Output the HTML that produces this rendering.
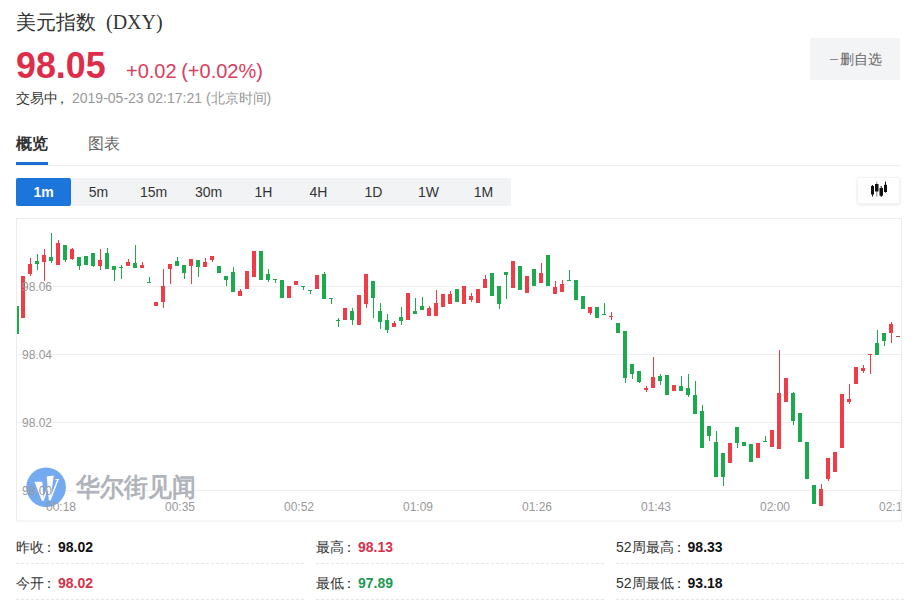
<!DOCTYPE html>
<html><head><meta charset="utf-8">
<style>
*{margin:0;padding:0;box-sizing:border-box}
html,body{width:914px;height:607px;overflow:hidden;background:#fff;font-family:"Liberation Sans",sans-serif;color:#333}
.a{position:absolute;white-space:nowrap}
</style></head><body>
<div class="a" style="left:16px;top:8px;font-size:20px;line-height:28px;color:#333">美元指数<span style="font-family:'Liberation Serif',serif;margin-left:10px">(DXY)</span></div>
<div class="a" style="left:16px;top:45px;font-size:36px;line-height:40px;font-weight:bold;color:#de2d4a;transform:scale(0.995,1.045);transform-origin:0 0">98.05</div>
<div class="a" style="left:126px;top:59px;font-size:20px;line-height:24px;color:#d8405e;word-spacing:-1px">+0.02 (+0.02%)</div>
<div class="a" style="left:16px;top:89px;font-size:14px;line-height:18px;color:#333">交易中<span style="margin-left:-3px;margin-right:3px">，</span><span style="color:#999">2019-05-23 02:17:21 (北京时间)</span></div>
<div class="a" style="left:810px;top:38px;width:90px;height:42px;background:#f3f4f6;"></div>
<div class="a" style="left:829.5px;top:58.5px;width:8.5px;height:1.5px;background:#8a8a8a"></div>
<div class="a" style="left:839.5px;top:50px;font-size:14px;line-height:18px;color:#666">删自选</div>

<div class="a" style="left:16px;top:134px;font-size:16px;line-height:20px;font-weight:bold;color:#333">概览</div>
<div class="a" style="left:88px;top:134px;font-size:16px;line-height:20px;color:#666">图表</div>
<div class="a" style="left:16px;top:165px;width:884px;height:1px;background:#eeeeee"></div>
<div class="a" style="left:16px;top:162px;width:32px;height:3px;background:#1a6fd6"></div>

<div class="a" style="left:16px;top:178px;width:495px;height:28px;background:#f2f3f5"></div>
<div class="a" style="left:16px;top:178px;width:55px;height:28px;background:#1c75db;border-radius:2px"></div>
<div class="a" style="left:16px;top:178px;width:55px;height:28px;line-height:28px;text-align:center;font-size:14px;font-weight:bold;color:#fff">1m</div>
<div class="a" style="left:71px;top:178px;width:55px;height:28px;line-height:28px;text-align:center;font-size:14px;color:#333">5m</div>
<div class="a" style="left:126px;top:178px;width:55px;height:28px;line-height:28px;text-align:center;font-size:14px;color:#333">15m</div>
<div class="a" style="left:181px;top:178px;width:55px;height:28px;line-height:28px;text-align:center;font-size:14px;color:#333">30m</div>
<div class="a" style="left:236px;top:178px;width:55px;height:28px;line-height:28px;text-align:center;font-size:14px;color:#333">1H</div>
<div class="a" style="left:291px;top:178px;width:55px;height:28px;line-height:28px;text-align:center;font-size:14px;color:#333">4H</div>
<div class="a" style="left:346px;top:178px;width:55px;height:28px;line-height:28px;text-align:center;font-size:14px;color:#333">1D</div>
<div class="a" style="left:401px;top:178px;width:55px;height:28px;line-height:28px;text-align:center;font-size:14px;color:#333">1W</div>
<div class="a" style="left:456px;top:178px;width:55px;height:28px;line-height:28px;text-align:center;font-size:14px;color:#333">1M</div>
<div class="a" style="left:857px;top:176.5px;width:43px;height:27.5px;background:#fff;border:1px solid #f3f3f3;box-shadow:0 1px 3px rgba(0,0,0,0.10);border-radius:2px"></div>
<svg class="a" style="left:858px;top:178px" width="42" height="26">
<g fill="#111">
<rect x="13" y="8" width="3" height="8.5"/><rect x="14" y="7" width="1" height="11.5"/>
<rect x="18.3" y="3.6" width="1" height="15" fill="#888"/><rect x="17" y="6" width="3.5" height="7.5"/>
<rect x="21.5" y="10" width="3.5" height="7.7"/><rect x="22.7" y="8" width="1" height="11"/>
<rect x="26" y="6.8" width="3" height="7.2"/><rect x="27" y="3.6" width="1" height="11"/>
</g>
</svg>

<svg class="a" style="left:0;top:0" width="914" height="607">
<rect x="16.5" y="218.5" width="885" height="302.5" fill="none" stroke="#ececec" stroke-width="1"/>
<g fill="#efefef">
<rect x="17" y="286" width="884" height="1"/>
<rect x="17" y="354" width="884" height="1"/>
<rect x="17" y="422" width="884" height="1"/>
<rect x="17" y="490" width="884" height="1"/>
</g>
<g>
<circle cx="46.1" cy="487.2" r="19.8" fill="#74aaf0"/>
<g fill="#fff">
<polygon points="34.4,481.8 42.2,481.8 43.8,500.7 41.8,500.7"/>
<polygon points="42.3,500.7 43.8,500.7 48.8,485.9 47.3,485.9"/>
<polygon points="46.7,476.4 53.7,475.6 50.4,500.3 48.8,500.3"/>
<polygon points="49.3,500.3 50.8,500.3 58.9,478.9 57.3,478.9"/>
<polygon points="55.5,478.9 59.2,478.9 59,480 55.5,480"/>
</g>
</g>
<svg x="17" y="219" width="884" height="302" viewBox="17 219 884 302" overflow="hidden">
<rect x="17" y="306" width="2" height="28" fill="#1daa4f"/>
<rect x="21" y="276" width="4" height="42" fill="#f03c46"/>
<rect x="30" y="258" width="1" height="18" fill="#f03c46"/>
<rect x="28" y="264" width="4" height="10" fill="#f03c46"/>
<rect x="37" y="254" width="1" height="16" fill="#1daa4f"/>
<rect x="35" y="261" width="4" height="3" fill="#1daa4f"/>
<rect x="44" y="249" width="1" height="32" fill="#f03c46"/>
<rect x="42" y="255" width="4" height="7" fill="#f03c46"/>
<rect x="51" y="233" width="1" height="30" fill="#1daa4f"/>
<rect x="49" y="257" width="4" height="4" fill="#1daa4f"/>
<rect x="58" y="240" width="1" height="25" fill="#f03c46"/>
<rect x="56" y="243" width="4" height="22" fill="#f03c46"/>
<rect x="65" y="245" width="1" height="17" fill="#1daa4f"/>
<rect x="63" y="245" width="4" height="15" fill="#1daa4f"/>
<rect x="72" y="248" width="1" height="12" fill="#f03c46"/>
<rect x="70" y="249" width="4" height="10" fill="#f03c46"/>
<rect x="79" y="257" width="1" height="13" fill="#1daa4f"/>
<rect x="77" y="257" width="4" height="9" fill="#1daa4f"/>
<rect x="84" y="256" width="4" height="9" fill="#1daa4f"/>
<rect x="93" y="253" width="1" height="14" fill="#1daa4f"/>
<rect x="91" y="253" width="4" height="13" fill="#1daa4f"/>
<rect x="100" y="249" width="1" height="21" fill="#f03c46"/>
<rect x="98" y="260" width="4" height="6" fill="#f03c46"/>
<rect x="107" y="248" width="1" height="21" fill="#1daa4f"/>
<rect x="105" y="253" width="4" height="16" fill="#1daa4f"/>
<rect x="114" y="266" width="1" height="15" fill="#1daa4f"/>
<rect x="112" y="266" width="4" height="4" fill="#1daa4f"/>
<rect x="121" y="265" width="1" height="14" fill="#1daa4f"/>
<rect x="119" y="267" width="4" height="1" fill="#1daa4f"/>
<rect x="128" y="259" width="1" height="7" fill="#f03c46"/>
<rect x="126" y="262" width="4" height="4" fill="#f03c46"/>
<rect x="135" y="245" width="1" height="23" fill="#1daa4f"/>
<rect x="133" y="263" width="4" height="5" fill="#1daa4f"/>
<rect x="142" y="262" width="1" height="6" fill="#f03c46"/>
<rect x="140" y="265" width="4" height="3" fill="#f03c46"/>
<rect x="149" y="277" width="1" height="6" fill="#1daa4f"/>
<rect x="147" y="282" width="4" height="1" fill="#1daa4f"/>
<rect x="154" y="302" width="4" height="4" fill="#f03c46"/>
<rect x="163" y="269" width="1" height="39" fill="#f03c46"/>
<rect x="161" y="286" width="4" height="16" fill="#f03c46"/>
<rect x="170" y="264" width="1" height="20" fill="#f03c46"/>
<rect x="168" y="264" width="4" height="5" fill="#f03c46"/>
<rect x="177" y="257" width="1" height="9" fill="#1daa4f"/>
<rect x="175" y="261" width="4" height="5" fill="#1daa4f"/>
<rect x="184" y="265" width="1" height="14" fill="#1daa4f"/>
<rect x="182" y="265" width="4" height="8" fill="#1daa4f"/>
<rect x="191" y="259" width="1" height="25" fill="#f03c46"/>
<rect x="189" y="259" width="4" height="7" fill="#f03c46"/>
<rect x="198" y="260" width="1" height="17" fill="#1daa4f"/>
<rect x="196" y="260" width="4" height="7" fill="#1daa4f"/>
<rect x="205" y="258" width="1" height="9" fill="#f03c46"/>
<rect x="203" y="262" width="4" height="5" fill="#f03c46"/>
<rect x="212" y="256" width="1" height="6" fill="#f03c46"/>
<rect x="210" y="256" width="4" height="4" fill="#f03c46"/>
<rect x="217" y="266" width="4" height="7" fill="#1daa4f"/>
<rect x="226" y="276" width="1" height="10" fill="#1daa4f"/>
<rect x="224" y="276" width="4" height="4" fill="#1daa4f"/>
<rect x="233" y="267" width="1" height="25" fill="#1daa4f"/>
<rect x="231" y="272" width="4" height="20" fill="#1daa4f"/>
<rect x="240" y="289" width="1" height="7" fill="#f03c46"/>
<rect x="238" y="291" width="4" height="5" fill="#f03c46"/>
<rect x="245" y="271" width="4" height="18" fill="#f03c46"/>
<rect x="252" y="251" width="4" height="26" fill="#f03c46"/>
<rect x="259" y="251" width="4" height="29" fill="#1daa4f"/>
<rect x="268" y="269" width="1" height="13" fill="#1daa4f"/>
<rect x="266" y="274" width="4" height="6" fill="#1daa4f"/>
<rect x="275" y="279" width="1" height="4" fill="#1daa4f"/>
<rect x="273" y="279" width="4" height="1" fill="#1daa4f"/>
<rect x="280" y="280" width="4" height="18" fill="#1daa4f"/>
<rect x="287" y="286" width="4" height="12" fill="#f03c46"/>
<rect x="294" y="281" width="4" height="4" fill="#f03c46"/>
<rect x="303" y="286" width="1" height="4" fill="#1daa4f"/>
<rect x="301" y="286" width="4" height="1" fill="#1daa4f"/>
<rect x="310" y="290" width="1" height="4" fill="#1daa4f"/>
<rect x="308" y="290" width="4" height="1" fill="#1daa4f"/>
<rect x="315" y="275" width="4" height="14" fill="#f03c46"/>
<rect x="324" y="272" width="1" height="27" fill="#1daa4f"/>
<rect x="322" y="274" width="4" height="25" fill="#1daa4f"/>
<rect x="331" y="298" width="1" height="6" fill="#1daa4f"/>
<rect x="329" y="298" width="4" height="1" fill="#1daa4f"/>
<rect x="338" y="318" width="1" height="9" fill="#1daa4f"/>
<rect x="336" y="320" width="4" height="1" fill="#1daa4f"/>
<rect x="343" y="308" width="4" height="12" fill="#f03c46"/>
<rect x="352" y="308" width="1" height="17" fill="#1daa4f"/>
<rect x="350" y="311" width="4" height="9" fill="#1daa4f"/>
<rect x="357" y="295" width="4" height="30" fill="#f03c46"/>
<rect x="366" y="274" width="1" height="34" fill="#f03c46"/>
<rect x="364" y="274" width="4" height="30" fill="#f03c46"/>
<rect x="373" y="281" width="1" height="37" fill="#1daa4f"/>
<rect x="371" y="281" width="4" height="17" fill="#1daa4f"/>
<rect x="380" y="303" width="1" height="26" fill="#1daa4f"/>
<rect x="378" y="311" width="4" height="11" fill="#1daa4f"/>
<rect x="387" y="314" width="1" height="19" fill="#1daa4f"/>
<rect x="385" y="320" width="4" height="10" fill="#1daa4f"/>
<rect x="394" y="321" width="1" height="6" fill="#f03c46"/>
<rect x="392" y="323" width="4" height="4" fill="#f03c46"/>
<rect x="401" y="307" width="1" height="18" fill="#1daa4f"/>
<rect x="399" y="317" width="4" height="4" fill="#1daa4f"/>
<rect x="406" y="293" width="4" height="27" fill="#f03c46"/>
<rect x="415" y="298" width="1" height="16" fill="#1daa4f"/>
<rect x="413" y="311" width="4" height="3" fill="#1daa4f"/>
<rect x="422" y="297" width="1" height="13" fill="#1daa4f"/>
<rect x="420" y="306" width="4" height="4" fill="#1daa4f"/>
<rect x="429" y="306" width="1" height="10" fill="#f03c46"/>
<rect x="427" y="308" width="4" height="8" fill="#f03c46"/>
<rect x="436" y="290" width="1" height="26" fill="#f03c46"/>
<rect x="434" y="303" width="4" height="13" fill="#f03c46"/>
<rect x="441" y="294" width="4" height="13" fill="#f03c46"/>
<rect x="450" y="291" width="1" height="13" fill="#f03c46"/>
<rect x="448" y="294" width="4" height="10" fill="#f03c46"/>
<rect x="455" y="289" width="4" height="13" fill="#1daa4f"/>
<rect x="462" y="286" width="4" height="18" fill="#f03c46"/>
<rect x="471" y="293" width="1" height="9" fill="#f03c46"/>
<rect x="469" y="296" width="4" height="4" fill="#f03c46"/>
<rect x="476" y="289" width="4" height="14" fill="#f03c46"/>
<rect x="485" y="275" width="1" height="13" fill="#f03c46"/>
<rect x="483" y="279" width="4" height="9" fill="#f03c46"/>
<rect x="490" y="273" width="4" height="23" fill="#1daa4f"/>
<rect x="499" y="286" width="1" height="23" fill="#1daa4f"/>
<rect x="497" y="286" width="4" height="18" fill="#1daa4f"/>
<rect x="506" y="272" width="1" height="27" fill="#1daa4f"/>
<rect x="504" y="272" width="4" height="3" fill="#1daa4f"/>
<rect x="511" y="261" width="4" height="27" fill="#f03c46"/>
<rect x="518" y="266" width="4" height="24" fill="#1daa4f"/>
<rect x="525" y="276" width="4" height="17" fill="#f03c46"/>
<rect x="532" y="269" width="4" height="17" fill="#1daa4f"/>
<rect x="541" y="263" width="1" height="20" fill="#f03c46"/>
<rect x="539" y="273" width="4" height="10" fill="#f03c46"/>
<rect x="546" y="255" width="4" height="31" fill="#1daa4f"/>
<rect x="555" y="281" width="1" height="13" fill="#f03c46"/>
<rect x="553" y="287" width="4" height="7" fill="#f03c46"/>
<rect x="562" y="280" width="1" height="12" fill="#f03c46"/>
<rect x="560" y="284" width="4" height="8" fill="#f03c46"/>
<rect x="569" y="270" width="1" height="10" fill="#1daa4f"/>
<rect x="567" y="280" width="4" height="1" fill="#1daa4f"/>
<rect x="574" y="280" width="4" height="20" fill="#1daa4f"/>
<rect x="581" y="296" width="4" height="13" fill="#1daa4f"/>
<rect x="590" y="307" width="1" height="8" fill="#f03c46"/>
<rect x="588" y="307" width="4" height="6" fill="#f03c46"/>
<rect x="595" y="307" width="4" height="11" fill="#1daa4f"/>
<rect x="604" y="303" width="1" height="11" fill="#1daa4f"/>
<rect x="602" y="314" width="4" height="1" fill="#1daa4f"/>
<rect x="611" y="312" width="1" height="8" fill="#f03c46"/>
<rect x="609" y="316" width="4" height="1" fill="#f03c46"/>
<rect x="616" y="323" width="4" height="10" fill="#1daa4f"/>
<rect x="625" y="331" width="1" height="52" fill="#1daa4f"/>
<rect x="623" y="331" width="4" height="47" fill="#1daa4f"/>
<rect x="632" y="364" width="1" height="15" fill="#1daa4f"/>
<rect x="630" y="364" width="4" height="10" fill="#1daa4f"/>
<rect x="639" y="371" width="1" height="12" fill="#1daa4f"/>
<rect x="637" y="371" width="4" height="11" fill="#1daa4f"/>
<rect x="646" y="386" width="1" height="6" fill="#f03c46"/>
<rect x="644" y="388" width="4" height="2" fill="#f03c46"/>
<rect x="653" y="357" width="1" height="31" fill="#f03c46"/>
<rect x="651" y="377" width="4" height="11" fill="#f03c46"/>
<rect x="660" y="374" width="1" height="11" fill="#1daa4f"/>
<rect x="658" y="376" width="4" height="5" fill="#1daa4f"/>
<rect x="665" y="375" width="4" height="20" fill="#1daa4f"/>
<rect x="672" y="385" width="4" height="6" fill="#f03c46"/>
<rect x="681" y="376" width="1" height="15" fill="#1daa4f"/>
<rect x="679" y="386" width="4" height="5" fill="#1daa4f"/>
<rect x="688" y="374" width="1" height="23" fill="#1daa4f"/>
<rect x="686" y="388" width="4" height="7" fill="#1daa4f"/>
<rect x="695" y="381" width="1" height="33" fill="#1daa4f"/>
<rect x="693" y="395" width="4" height="19" fill="#1daa4f"/>
<rect x="702" y="405" width="1" height="43" fill="#1daa4f"/>
<rect x="700" y="411" width="4" height="37" fill="#1daa4f"/>
<rect x="709" y="426" width="1" height="15" fill="#1daa4f"/>
<rect x="707" y="426" width="4" height="10" fill="#1daa4f"/>
<rect x="716" y="431" width="1" height="46" fill="#1daa4f"/>
<rect x="714" y="442" width="4" height="35" fill="#1daa4f"/>
<rect x="723" y="453" width="1" height="33" fill="#1daa4f"/>
<rect x="721" y="453" width="4" height="24" fill="#1daa4f"/>
<rect x="728" y="443" width="4" height="20" fill="#f03c46"/>
<rect x="737" y="427" width="1" height="21" fill="#1daa4f"/>
<rect x="735" y="427" width="4" height="16" fill="#1daa4f"/>
<rect x="742" y="442" width="4" height="4" fill="#1daa4f"/>
<rect x="749" y="444" width="4" height="18" fill="#1daa4f"/>
<rect x="756" y="443" width="4" height="15" fill="#f03c46"/>
<rect x="765" y="436" width="1" height="6" fill="#1daa4f"/>
<rect x="763" y="441" width="4" height="1" fill="#1daa4f"/>
<rect x="770" y="430" width="4" height="17" fill="#f03c46"/>
<rect x="779" y="350" width="1" height="99" fill="#f03c46"/>
<rect x="777" y="393" width="4" height="56" fill="#f03c46"/>
<rect x="784" y="378" width="4" height="24" fill="#f03c46"/>
<rect x="793" y="392" width="1" height="33" fill="#1daa4f"/>
<rect x="791" y="393" width="4" height="28" fill="#1daa4f"/>
<rect x="798" y="413" width="4" height="29" fill="#1daa4f"/>
<rect x="805" y="442" width="4" height="37" fill="#1daa4f"/>
<rect x="812" y="485" width="4" height="19" fill="#1daa4f"/>
<rect x="821" y="484" width="1" height="22" fill="#f03c46"/>
<rect x="819" y="489" width="4" height="17" fill="#f03c46"/>
<rect x="828" y="458" width="1" height="23" fill="#f03c46"/>
<rect x="826" y="458" width="4" height="21" fill="#f03c46"/>
<rect x="833" y="452" width="4" height="20" fill="#f03c46"/>
<rect x="840" y="394" width="4" height="54" fill="#f03c46"/>
<rect x="849" y="384" width="1" height="20" fill="#f03c46"/>
<rect x="847" y="399" width="4" height="3" fill="#f03c46"/>
<rect x="854" y="367" width="4" height="17" fill="#f03c46"/>
<rect x="863" y="365" width="1" height="8" fill="#f03c46"/>
<rect x="861" y="368" width="4" height="3" fill="#f03c46"/>
<rect x="870" y="354" width="1" height="20" fill="#f03c46"/>
<rect x="868" y="354" width="4" height="1" fill="#f03c46"/>
<rect x="877" y="330" width="1" height="25" fill="#1daa4f"/>
<rect x="875" y="343" width="4" height="12" fill="#1daa4f"/>
<rect x="884" y="333" width="1" height="13" fill="#1daa4f"/>
<rect x="882" y="333" width="4" height="8" fill="#1daa4f"/>
<rect x="891" y="322" width="1" height="21" fill="#f03c46"/>
<rect x="889" y="324" width="4" height="9" fill="#f03c46"/>
<rect x="896" y="336" width="4" height="1" fill="#a04848"/>
</svg>
</svg>
<div class="a" style="left:76px;top:471px;font-size:24px;line-height:30px;font-weight:bold;color:#b0b4ba;font-family:'Liberation Serif',serif;transform:scaleY(1.09);transform-origin:0 0">华尔街见闻</div>
<div class="a" style="left:22px;top:279px;font-size:12px;line-height:16px;color:#999">98.06</div>
<div class="a" style="left:22px;top:347px;font-size:12px;line-height:16px;color:#999">98.04</div>
<div class="a" style="left:22px;top:415px;font-size:12px;line-height:16px;color:#999">98.02</div>
<div class="a" style="left:22px;top:483px;font-size:12px;line-height:16px;color:#999">98.00</div>
<div class="a" style="left:0;top:0;width:901px;height:607px;overflow:hidden"><div class="a" style="left:31px;top:499px;width:60px;text-align:center;font-size:12px;line-height:16px;color:#999">00:18</div>
<div class="a" style="left:150px;top:499px;width:60px;text-align:center;font-size:12px;line-height:16px;color:#999">00:35</div>
<div class="a" style="left:269px;top:499px;width:60px;text-align:center;font-size:12px;line-height:16px;color:#999">00:52</div>
<div class="a" style="left:388px;top:499px;width:60px;text-align:center;font-size:12px;line-height:16px;color:#999">01:09</div>
<div class="a" style="left:507px;top:499px;width:60px;text-align:center;font-size:12px;line-height:16px;color:#999">01:26</div>
<div class="a" style="left:626px;top:499px;width:60px;text-align:center;font-size:12px;line-height:16px;color:#999">01:43</div>
<div class="a" style="left:745px;top:499px;width:60px;text-align:center;font-size:12px;line-height:16px;color:#999">02:00</div>
<div class="a" style="left:864px;top:499px;width:60px;text-align:center;font-size:12px;line-height:16px;color:#999">02:17</div></div>
<div class="a" style="left:16px;top:537px;font-size:14px;line-height:20px;color:#333">昨收<span style="margin-left:-2px;margin-right:2px">：</span><b style="color:#111">98.02</b></div>
<div class="a" style="left:16px;top:563px;width:288px;height:0;border-top:1px dashed #e6e6e6"></div>
<div class="a" style="left:16px;top:573px;font-size:14px;line-height:20px;color:#333">今开<span style="margin-left:-2px;margin-right:2px">：</span><b style="color:#d6334c">98.02</b></div>
<div class="a" style="left:16px;top:599px;width:288px;height:0;border-top:1px dashed #e6e6e6"></div>
<div class="a" style="left:316px;top:537px;font-size:14px;line-height:20px;color:#333">最高<span style="margin-left:-2px;margin-right:2px">：</span><b style="color:#d6334c">98.13</b></div>
<div class="a" style="left:316px;top:563px;width:288px;height:0;border-top:1px dashed #e6e6e6"></div>
<div class="a" style="left:316px;top:573px;font-size:14px;line-height:20px;color:#333">最低<span style="margin-left:-2px;margin-right:2px">：</span><b style="color:#1e9a52">97.89</b></div>
<div class="a" style="left:316px;top:599px;width:288px;height:0;border-top:1px dashed #e6e6e6"></div>
<div class="a" style="left:616px;top:537px;font-size:14px;line-height:20px;color:#333">52周最高<span style="margin-left:-2px;margin-right:2px">：</span><b style="color:#111">98.33</b></div>
<div class="a" style="left:616px;top:563px;width:288px;height:0;border-top:1px dashed #e6e6e6"></div>
<div class="a" style="left:616px;top:573px;font-size:14px;line-height:20px;color:#333">52周最低<span style="margin-left:-2px;margin-right:2px">：</span><b style="color:#111">93.18</b></div>
<div class="a" style="left:616px;top:599px;width:288px;height:0;border-top:1px dashed #e6e6e6"></div>
</body></html>
